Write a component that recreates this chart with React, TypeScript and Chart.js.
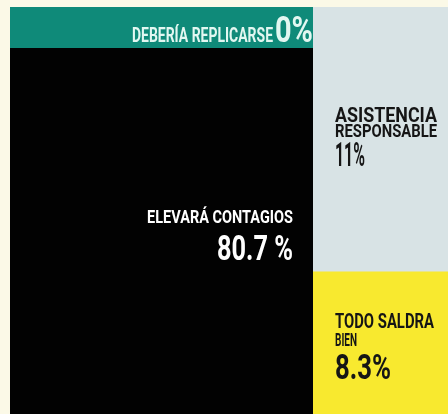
import React, { useEffect, useRef } from 'react';
import { Chart, registerables } from 'chart.js';

Chart.register(...registerables);

// ---- data ----
const categories = ['ELEVARÁ CONTAGIOS', 'DEBERÍA REPLICARSE', 'ASISTENCIA RESPONSABLE', 'TODO SALDRA BIEN'];
const values = [80.7, 0, 11, 8.3];
const valueLabels = ['80.7 %', '0%', '11%', '8.3%'];
const labelLines = [['ELEVARÁ CONTAGIOS'], ['DEBERÍA REPLICARSE'], ['ASISTENCIA', 'RESPONSABLE'], ['TODO SALDRA', 'BIEN']];

// ---- styles ----
const COLORS = ['#020202', '#0f8a79', '#d8e3e5', '#f8e92f'];
const TEXT_COLORS = ['#ffffff', '#e2f7f1', '#151515', '#151515'];
const BG = '#fbf9e7';
const FONT = 'Roboto, "DejaVu Sans Condensed", sans-serif';

function drawFit(
  ctx: CanvasRenderingContext2D,
  text: string,
  x: number,
  baseline: number,
  cap: number,
  width: number,
  align: CanvasTextAlign,
  color: string
) {
  const size = cap / 0.711;
  ctx.save();
  ctx.font = `bold ${size}px ${FONT}`;
  const w = ctx.measureText(text).width || 1;
  ctx.translate(x, baseline);
  ctx.scale(width / w, 1);
  ctx.fillStyle = color;
  ctx.textBaseline = 'alphabetic';
  ctx.textAlign = align;
  ctx.fillText(text, 0, 0);
  ctx.restore();
}

const leftPlugin = {
  id: 'leftLabels',
  beforeDraw(chart: any) {
    const { ctx, chartArea } = chart;
    ctx.save();
    ctx.fillStyle = COLORS[1];
    ctx.fillRect(0, 0, chart.width, chartArea.top);
    ctx.restore();
  },
  afterDraw(chart: any) {
    const { ctx, chartArea } = chart;
    const el = chart.getDatasetMeta(0).data[0] as any;
    const right = el.x + el.width / 2;
    const top = el.y;
    // teal band (0%)
    drawFit(ctx, labelLines[1][0], chartArea.right - 40, chartArea.top - 6, 15, 141, 'right', TEXT_COLORS[1]);
    drawFit(ctx, valueLabels[1], chartArea.right, chartArea.top - 6, 26, 38, 'right', TEXT_COLORS[1]);
    // black block
    drawFit(ctx, labelLines[0][0], right - 20, top + 175, 12.5, 146, 'right', TEXT_COLORS[0]);
    drawFit(ctx, valueLabels[0], right - 20, top + 212, 25, 76, 'right', TEXT_COLORS[0]);
  },
};

const rightPlugin = {
  id: 'rightLabels',
  afterDraw(chart: any) {
    const { ctx } = chart;
    const yellow = chart.getDatasetMeta(0).data[0] as any;
    const gray = chart.getDatasetMeta(1).data[0] as any;
    const left = gray.x - gray.width / 2 + 22;
    const gTop = gray.y;
    drawFit(ctx, labelLines[2][0], left, gTop + 115, 14, 102, 'left', TEXT_COLORS[2]);
    drawFit(ctx, labelLines[2][1], left, gTop + 130, 12.5, 102, 'left', TEXT_COLORS[2]);
    drawFit(ctx, valueLabels[2], left, gTop + 159, 24, 30, 'left', TEXT_COLORS[2]);
    const yTop = yellow.y;
    drawFit(ctx, labelLines[3][0], left, yTop + 56, 15, 99, 'left', TEXT_COLORS[3]);
    drawFit(ctx, labelLines[3][1], left, yTop + 74, 13, 22, 'left', TEXT_COLORS[3]);
    drawFit(ctx, valueLabels[3], left, yTop + 107, 25, 56, 'left', TEXT_COLORS[3]);
  },
};

const baseOptions = (extraY: any) => ({
  animation: false as const,
  responsive: true,
  maintainAspectRatio: false,
  plugins: { legend: { display: false }, tooltip: { enabled: false } },
  scales: {
    x: { display: false, stacked: true },
    y: { display: false, stacked: true, ...extraY },
  },
});

export default function App() {
  const leftRef = useRef<HTMLCanvasElement>(null);
  const rightRef = useRef<HTMLCanvasElement>(null);

  useEffect(() => {
    const left = new Chart(leftRef.current!, {
      type: 'bar',
      data: {
        labels: [categories[0]],
        datasets: [
          {
            label: categories[0],
            data: [values[0]],
            backgroundColor: COLORS[0],
            borderWidth: 0,
            barPercentage: 1,
            categoryPercentage: 1,
          },
        ],
      },
      options: {
        ...baseOptions({ min: 0, max: values[0] }),
        layout: { padding: { top: 41 } },
      } as any,
      plugins: [leftPlugin],
    });

    const right = new Chart(rightRef.current!, {
      type: 'bar',
      data: {
        labels: ['right'],
        datasets: [
          {
            label: categories[3],
            data: [values[3]],
            backgroundColor: COLORS[3],
            borderWidth: 0,
            barPercentage: 1,
            categoryPercentage: 1,
          },
          {
            label: categories[2],
            data: [values[2]],
            backgroundColor: COLORS[2],
            borderWidth: 0,
            barPercentage: 1,
            categoryPercentage: 1,
          },
        ],
      },
      options: baseOptions({ min: 2.4, max: values[2] + values[3] }) as any,
      plugins: [rightPlugin],
    });

    return () => {
      left.destroy();
      right.destroy();
    };
  }, []);

  return (
    <div
      style={{
        position: 'absolute',
        left: 0,
        top: 0,
        width: 448,
        height: 414,
        background: BG,
        overflow: 'hidden',
      }}
    >
      <div style={{ position: 'absolute', left: 10, top: 7, width: 303, height: 407 }}>
        <canvas ref={leftRef} />
      </div>
      <div style={{ position: 'absolute', left: 313, top: 7, width: 135, height: 407 }}>
        <canvas ref={rightRef} />
      </div>
    </div>
  );
}
